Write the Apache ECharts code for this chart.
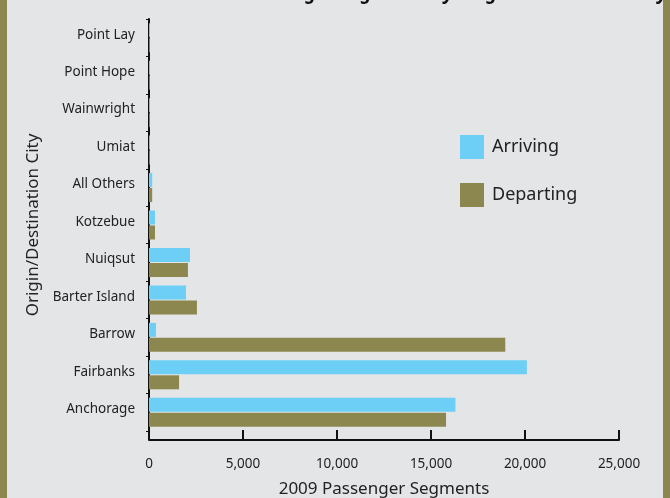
<!DOCTYPE html>
<html>
<head>
<meta charset="utf-8">
<script src="https://cdn.jsdelivr.net/npm/echarts@6/dist/echarts.min.js"></script>
<style>
  html, body { margin: 0; padding: 0; background: #8b874f; }
  #chart { position: absolute; left: 7px; top: 0; width: 656px; height: 498px; background: #e4e5e7; }
</style>
</head>
<body>
<div id="chart"></div>
<script>
// cities, bottom to top
const cities = ['Anchorage', 'Fairbanks', 'Barrow', 'Barter Island', 'Nuiqsut', 'Kotzebue',
  'All Others', 'Umiat', 'Wainwright', 'Point Hope', 'Point Lay'];
const arriving = [16300, 20100, 370, 1970, 2180, 320, 170, 50, 50, 50, 50];
const departing = [15800, 1600, 18950, 2550, 2070, 320, 170, 50, 50, 50, 50];
const xTicks = [0, 5000, 10000, 15000, 20000, 25000];

const font = 'Noto Sans';
const myChart = echarts.init(document.getElementById('chart'));
const option = {
  backgroundColor: '#e4e5e7',
  animation: false,
  title: {
    text: 'Passenger Segments by Origin/Destination City',
    left: 230,
    top: -21,
    textStyle: { fontFamily: font, fontSize: 19, fontWeight: 'bold', fontStyle: 'italic', color: '#111' }
  },
  legend: {
    orient: 'vertical',
    left: 453,
    top: 135,
    padding: 0,
    itemWidth: 24,
    itemHeight: 24,
    itemGap: 24,
    icon: 'rect',
    selectedMode: false,
    textStyle: { fontFamily: font, fontSize: 18, color: '#222', padding: [0, 0, 0, 3] },
    data: ['Arriving', 'Departing']
  },
  grid: { left: 142, right: 44, top: 19, bottom: 67, outerBoundsMode: 'none', containLabel: false },
  xAxis: {
    type: 'value',
    min: xTicks[0],
    max: xTicks[xTicks.length - 1],
    interval: 5000,
    offset: 9,
    name: '2009 Passenger Segments',
    nameLocation: 'middle',
    nameGap: 41,
    nameTextStyle: { fontFamily: font, fontSize: 17, color: '#222' },
    axisLine: { show: true, lineStyle: { color: '#111', width: 2 } },
    axisTick: { show: true, inside: true, length: 10, lineStyle: { color: '#111', width: 2 } },
    axisLabel: {
      fontFamily: font, fontSize: 13.5, color: '#222', margin: 17,
      formatter: v => v.toLocaleString('en-US')
    },
    splitLine: { show: false }
  },
  yAxis: {
    type: 'category',
    data: cities,
    name: 'Origin/Destination City',
    nameLocation: 'middle',
    nameGap: 99,
    nameTextStyle: { fontFamily: font, fontSize: 17, color: '#222' },
    axisLine: { show: true, lineStyle: { color: '#111', width: 2 } },
    axisTick: { show: true, length: 3, lineStyle: { color: '#111' } },
    axisLabel: {
      fontFamily: font, fontSize: 13.5, color: '#222', margin: 14,
      verticalAlign: 'bottom', lineHeight: 6
    }
  },
  series: [
    {
      name: 'Arriving',
      type: 'bar',
      data: arriving,
      barWidth: 14,
      barGap: '7%',
      itemStyle: { color: '#6dcff6' }
    },
    {
      name: 'Departing',
      type: 'bar',
      data: departing,
      barWidth: 14,
      itemStyle: { color: '#8b874f' }
    }
  ]
};
myChart.setOption(option);

// extend the y axis line down to the offset x axis
const rect = myChart.getModel().getComponent('grid', 0).coordinateSystem.getRect();
myChart.setOption({
  graphic: [{
    type: 'line',
    shape: { x1: rect.x, y1: rect.y + rect.height - 1, x2: rect.x, y2: rect.y + rect.height + 9 },
    style: { stroke: '#111', lineWidth: 2 }
  }]
});

window.addEventListener('resize', function () {
  myChart.resize();
});
</script>
</body>
</html>
